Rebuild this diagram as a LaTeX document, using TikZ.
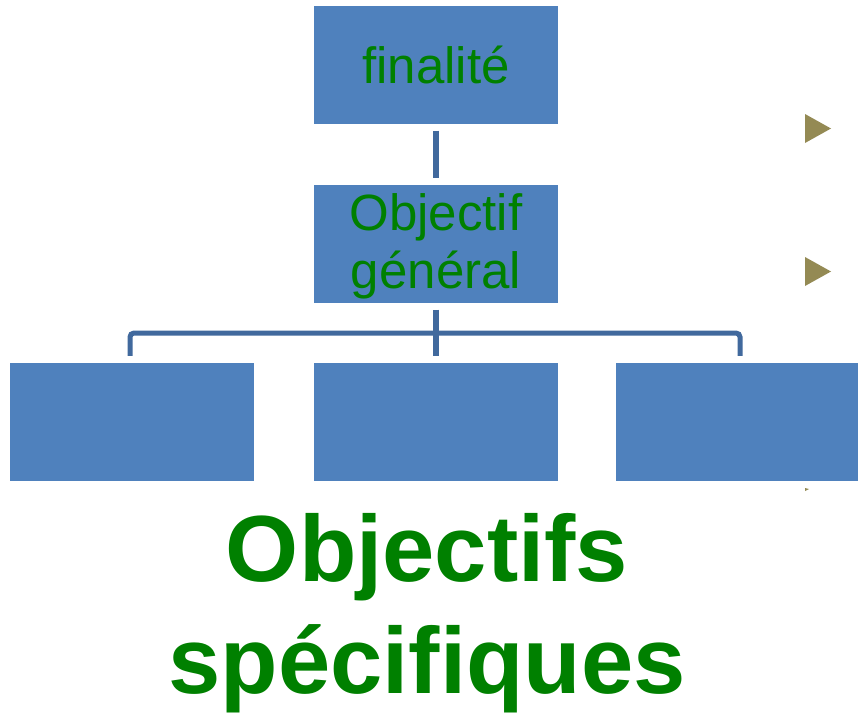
\documentclass[tikz,border=0pt]{standalone}
\usepackage{fontspec}
\setmainfont{Liberation Sans}
\usetikzlibrary{calc}
\definecolor{boxblue}{HTML}{4F81BD}
\definecolor{linkblue}{HTML}{41699D}
\definecolor{txtgreen}{HTML}{008000}
\definecolor{olive}{HTML}{948A54}
\tikzset{
  orgbox/.style={fill=boxblue, draw=none, minimum width=244pt, minimum height=118pt, inner sep=0pt,
    text=txtgreen, align=center, font=\fontsize{51}{58}\selectfont},
  conn/.style={draw=linkblue, line width=5.5pt},
  bullet/.style={fill=olive, draw=none},
  bigtxt/.style={text=txtgreen, font=\fontsize{94}{112}\selectfont\bfseries, anchor=base, inner sep=0pt}
}
\begin{document}
\begin{tikzpicture}[x=1pt,y=-1pt]
\useasboundingbox (0,0) rectangle (858,712);
\node[orgbox] (fin) at (436,64.5) {finalité};
\node[orgbox, text depth=5pt] (gen) at (436,243.5) {Objectif\\général};
\node[orgbox] (b1) at (132,422) {};
\node[orgbox] (b2) at (436,422) {};
\node[orgbox] (b3) at (738,422) {};
\coordinate (mid) at (436,333);
\draw[conn] ([yshift=-7pt]fin.south) -- ([yshift=6pt]gen.north);
\draw[conn] ([yshift=-7pt]gen.south) -- ([yshift=7pt]b2.north);
\draw[conn, line width=5pt, rounded corners=4pt] ([xshift=-2pt,yshift=7pt]b1.north) |- (mid) -| ([xshift=2pt,yshift=7pt]b3.north);
\fill[bullet] (805,114) -- (805,143) -- (831,128.5) -- cycle;
\fill[bullet] (805,257) -- (805,286) -- (831,271.5) -- cycle;
\fill[bullet] (805,488) -- (805,491) -- (809,489) -- cycle;
\node[bigtxt] (t1) at (427,581) {Objectifs};
\node[bigtxt] (t2) at (427,693) {spécifiques};
\end{tikzpicture}
\end{document}
